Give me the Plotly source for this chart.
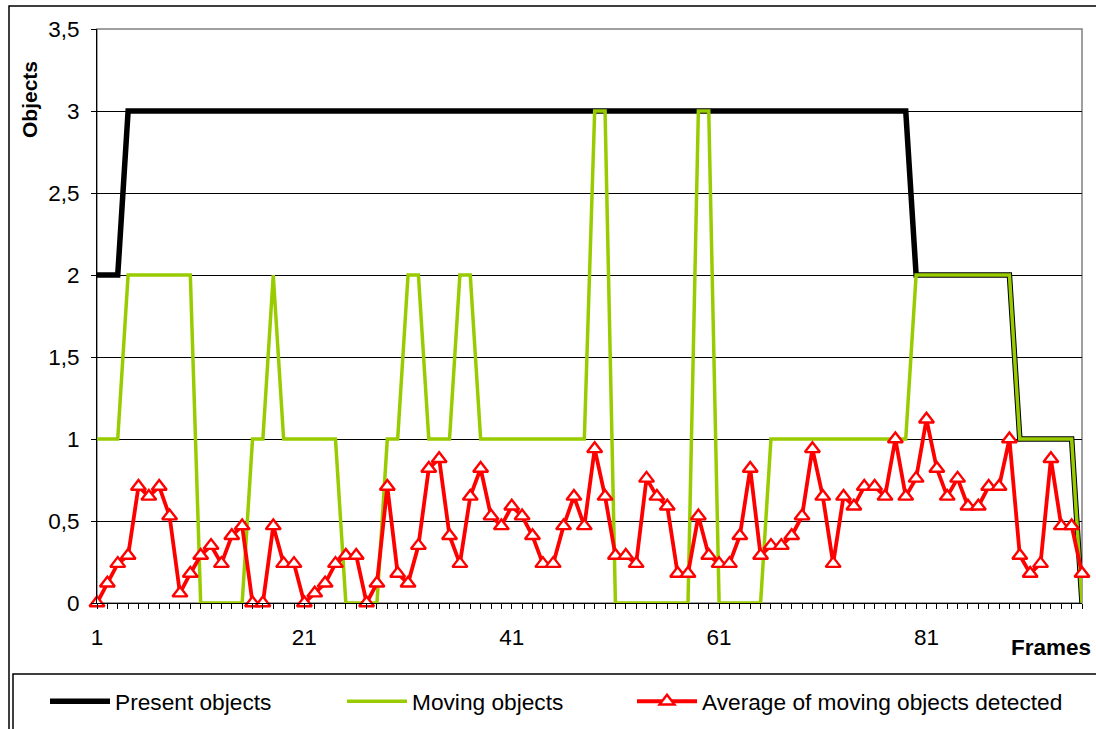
import plotly.graph_objects as go

# ---------------- data ----------------
frames = list(range(1, 97))

present_objects = [2, 2, 2] + [3] * 76 + [2] * 10 + [1] * 6 + [0]

moving_objects = (
    [1, 1, 1] + [2] * 7 + [0] * 5 + [1, 1, 2] + [1] * 6 + [0] * 4 + [1, 1, 2, 2, 1, 1, 1, 2, 2]
    + [1] * 11 + [3, 3] + [0] * 8 + [3, 3] + [0] * 5 + [1] * 14 + [2] * 10 + [1] * 6 + [0]
)

avg_detected = [
    0.00, 0.12, 0.24, 0.29, 0.71, 0.65, 0.71, 0.53, 0.06, 0.18, 0.29, 0.35,
    0.24, 0.41, 0.47, 0.00, 0.00, 0.47, 0.24, 0.24, 0.00, 0.06, 0.12, 0.24,
    0.29, 0.29, 0.00, 0.12, 0.71, 0.18, 0.12, 0.35, 0.82, 0.88, 0.41, 0.24,
    0.65, 0.82, 0.53, 0.47, 0.59, 0.53, 0.41, 0.24, 0.24, 0.47, 0.65, 0.47,
    0.94, 0.65, 0.29, 0.29, 0.24, 0.76, 0.65, 0.59, 0.18, 0.18, 0.53, 0.29,
    0.24, 0.24, 0.41, 0.82, 0.29, 0.35, 0.35, 0.41, 0.53, 0.94, 0.65, 0.24,
    0.65, 0.59, 0.71, 0.71, 0.65, 1.00, 0.65, 0.76, 1.12, 0.82, 0.65, 0.76,
    0.59, 0.59, 0.71, 0.71, 1.00, 0.29, 0.18, 0.24, 0.88, 0.47, 0.47, 0.18,
]

series_names = ["Present objects", "Moving objects", "Average of moving objects detected"]
x_title = "Frames"
y_title = "Objects"

# ---------------- layout helpers ----------------
W, H = 1096, 729
PL, PR, PT, PB = 97, 1082, 29, 603  # plot area in pixels


def px_x(p):
    return (p - PL) / (PR - PL)


def px_y(p):
    return (PB - p) / (PB - PT)


FONT = "Arial, 'Liberation Sans', Helvetica, sans-serif"

fig = go.Figure()
fig.add_trace(go.Scatter(
    x=frames, y=present_objects, mode="lines", name=series_names[0], legend="legend",
    line=dict(color="#000000", width=5.5), cliponaxis=False,
))
fig.add_trace(go.Scatter(
    x=frames, y=moving_objects, mode="lines", name=series_names[1], legend="legend2",
    line=dict(color="#99CC00", width=3.5), cliponaxis=False,
))
fig.add_trace(go.Scatter(
    x=frames, y=avg_detected, mode="lines+markers", name=series_names[2], legend="legend3",
    line=dict(color="#FF0000", width=3.8),
    marker=dict(symbol="triangle-up", size=13, color="#FFFFFF",
                line=dict(color="#FF0000", width=2.4)),
    cliponaxis=False,
))


def legend_at(px):
    return dict(
        orientation="h", x=px_x(px), y=px_y(680), xanchor="left", yanchor="top",
        font=dict(size=22.7), itemwidth=60,
        bgcolor="rgba(0,0,0,0)", borderwidth=0,
    )


fig.update_layout(
    width=W, height=H,
    margin=dict(l=PL, r=W - PR, t=PT, b=H - PB, pad=0, autoexpand=False),
    paper_bgcolor="white", plot_bgcolor="white",
    separators=",.",
    font=dict(family=FONT, size=22, color="black"),
    showlegend=True,
    legend=legend_at(45),
    legend2=legend_at(342),
    legend3=legend_at(632),
    xaxis=dict(
        range=[1, 96], tick0=1, dtick=20, ticks="outside", ticklen=5, tickcolor="black",
        showline=True, linecolor="black", linewidth=1, showgrid=False, zeroline=False,
        ticklabelstandoff=9,
        minor=dict(dtick=1, tick0=1, ticks="outside", ticklen=5, tickcolor="black", showgrid=False),
        tickfont=dict(size=22.5),
    ),
    yaxis=dict(
        range=[0, 3.5], dtick=0.5, ticks="outside", ticklen=5, tickcolor="black",
        showline=True, linecolor="black", linewidth=1, showgrid=True, gridcolor="black",
        gridwidth=1, zeroline=False, ticklabelstandoff=7, tickfont=dict(size=22.5),
    ),
    shapes=[
        # plot area border (grey top / right)
        dict(type="rect", xref="paper", yref="paper", x0=0, x1=1, y0=0, y1=1,
             line=dict(color="#808080", width=1.5), layer="below"),
        # outer chart border
        dict(type="rect", xref="paper", yref="paper", x0=px_x(9), x1=px_x(1110),
             y0=px_y(740), y1=px_y(6), line=dict(color="black", width=1.5), layer="below"),
        # legend box
        dict(type="rect", xref="paper", yref="paper", x0=px_x(13), x1=px_x(1110),
             y0=px_y(740), y1=px_y(674), line=dict(color="black", width=1.5), layer="below"),
    ],
    annotations=[
        dict(text="<b>" + x_title + "</b>", xref="paper", yref="paper", x=px_x(1051), y=px_y(647),
             xanchor="center", yanchor="middle", showarrow=False, font=dict(size=22.5)),
        dict(text="<b>" + y_title + "</b>", xref="paper", yref="paper", x=px_x(30), y=px_y(100),
             xanchor="center", yanchor="middle", showarrow=False, textangle=-90, font=dict(size=21)),
    ],
)

fig.write_html(
    "out.html",
    config={"displayModeBar": False},
    post_script="document.body.style.margin='0';document.body.style.overflow='hidden';",
)
